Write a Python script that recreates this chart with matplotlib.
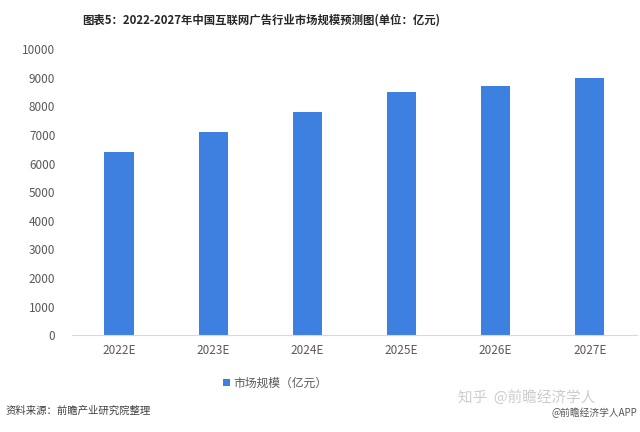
import matplotlib
matplotlib.use("Agg")
import matplotlib.pyplot as plt

plt.rcParams['font.family'] = ['Noto Sans CJK SC', 'DejaVu Sans']

years = ["2022E", "2023E", "2024E", "2025E", "2026E", "2027E"]
scale = [6400, 7100, 7800, 8500, 8700, 9000]
yticks = list(range(0, 10001, 1000))

f = plt.figure(figsize=(6.4, 4.32), dpi=100)
ax = f.add_axes([0.1125, 0.224, 0.8825, 0.662])

x = list(range(len(years)))
ax.bar(x, scale, width=0.31, color="#3d80e0", label="市场规模（亿元）")
ax.set_xlim(-0.5, len(years) - 0.5)
ax.set_ylim(0, 10000)
ax.set_yticks(yticks)
ax.set_xticks(x)
ax.set_xticklabels(years)
ax.tick_params(axis="both", length=0, labelsize=8.5, colors="#595959")
ax.tick_params(axis="y", pad=12)
ax.tick_params(axis="x", pad=6)
for s in ["top", "right", "left"]:
    ax.spines[s].set_visible(False)
ax.spines["bottom"].set_color("#d9d9d9")

f.text(0.408, 0.953, "图表5：2022-2027年中国互联网广告行业市场规模预测图(单位：亿元)",
       ha="center", va="center", fontsize=8.2, fontweight="bold", color="#262626")

f.legend(loc="center", bbox_to_anchor=(0.43, 0.113), frameon=False,
         fontsize=8.5, handlelength=0.6, handleheight=0.6, handletextpad=0.3,
         labelcolor="#595959")

f.text(0.008, 0.05, "资料来源：前瞻产业研究院整理", ha="left", va="center",
       fontsize=7.5, color="#404040")
f.text(0.715, 0.08, "知乎  @前瞻经济学人", ha="left", va="center",
       fontsize=10.5, color="#cccccc")
f.text(0.995, 0.045, "@前瞻经济学人APP", ha="right", va="center",
       fontsize=7, color="#555555")

f.savefig("out.png", dpi=100)
